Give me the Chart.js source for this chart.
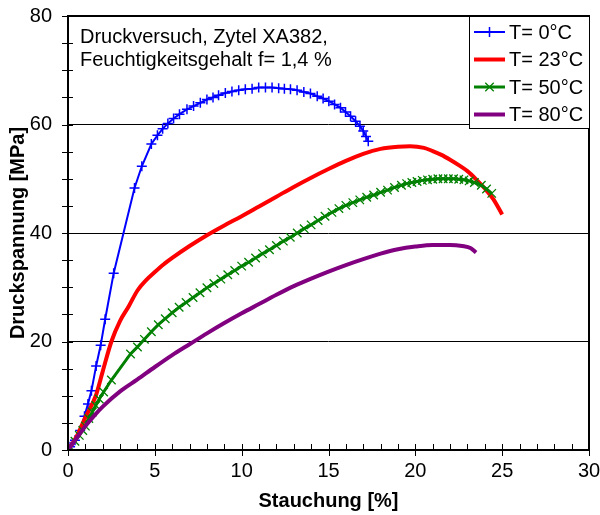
<!DOCTYPE html>
<html>
<head>
<meta charset="utf-8">
<script src="https://cdn.jsdelivr.net/npm/chart.js@4.4.1/dist/chart.umd.min.js"></script>
<style>
  html, body { margin: 0; padding: 0; background: #fff; }
</style>
</head>
<body>
<canvas id="c" width="600" height="515"></canvas>
<script>
// Druckversuch Zytel XA382 — Stauchung [%] gegen Druckspannung [MPa]
var seriesLabels = ['T= 0°C', 'T= 23°C', 'T= 50°C', 'T= 80°C'];
var noteLines = ['Druckversuch, Zytel XA382,', 'Feuchtigkeitsgehalt f= 1,4 %'];
var xTitle = 'Stauchung [%]';
var yTitle = 'Druckspannung [MPa]';

var t0x = [0, 0.12, 0.4, 0.7, 0.95, 1.15, 1.35, 1.62, 1.88, 2.14, 2.63, 3.83, 4.25, 4.8, 5.15,
  5.45, 5.75, 6.08, 6.42, 6.85, 7.23, 7.62, 8.0, 8.35, 8.67, 9.06, 9.44, 9.83, 10.21, 10.6,
  10.98, 11.37, 11.75, 12.13, 12.46, 12.81, 13.19, 13.58, 13.96, 14.35, 14.69, 15.02, 15.35, 15.69, 15.98,
  16.27, 16.56, 16.81, 17.0, 17.16, 17.29];
var t0y = [0, 0.6, 1.8, 3.6, 6.2, 8.5, 10.9, 15.5, 19.3, 24.1, 32.6, 48.3, 52.3, 56.4, 58.0,
  59.2, 60.2, 61.1, 61.9, 62.8, 63.4, 64.0, 64.6, 65.0, 65.4, 65.8, 66.1, 66.3, 66.5, 66.6,
  66.8, 66.8, 66.8, 66.7, 66.6, 66.5, 66.3, 66.0, 65.7, 65.2, 64.8, 64.3, 63.7, 63.1, 62.3,
  61.5, 60.6, 59.7, 58.8, 57.8, 56.9];

var t23x = [0, 0.5, 1, 1.6, 2, 2.5, 3, 3.5, 4, 4.5, 5, 5.5, 6, 7, 8, 9, 10, 11, 12, 13,
  14, 15, 16, 17, 18, 19, 19.7, 20.5, 21, 21.5, 22, 22.5, 23, 23.5, 24, 24.5, 25];
var t23y = [0, 2.5, 6, 10, 14.5, 20, 23.8, 26.5, 29.4, 31.3, 32.8, 34.2, 35.4, 37.6, 39.6, 41.4, 43.1, 44.9, 46.7, 48.5,
  50.2, 51.8, 53.3, 54.6, 55.5, 55.9, 56.0, 55.7, 55.1, 54.4, 53.5, 52.5, 51.4, 49.9, 48.2, 46.2, 43.4];

var t50x = [0, 0.12, 0.4, 0.65, 0.85, 1.0, 1.2, 1.4, 1.6, 1.8, 2.05, 2.5, 3.6, 4.0, 4.4,
  4.8, 5.2, 5.6, 6.0, 6.4, 6.8, 7.2, 7.6, 8.0, 8.4, 8.8, 9.2, 9.6, 10.0, 10.4,
  10.8, 11.2, 11.6, 12.0, 12.4, 12.8, 13.2, 13.6, 14.0, 14.4, 14.8, 15.2, 15.6, 16.0, 16.4,
  16.8, 17.2, 17.6, 18.0, 18.4, 18.8, 19.2, 19.5, 19.8, 20.1, 20.4, 20.7, 21.0, 21.3, 21.6,
  21.9, 22.2, 22.5, 22.8, 23.1, 23.4, 23.8, 24.1, 24.4];
var t50y = [0, 0.6, 1.6, 2.7, 3.6, 4.4, 5.8, 7.0, 8.2, 9.4, 10.7, 12.9, 17.7, 19.0, 20.4,
  21.8, 23.1, 24.2, 25.3, 26.3, 27.2, 28.1, 29.0, 29.9, 30.7, 31.5, 32.3, 33.1, 33.9, 34.6,
  35.4, 36.2, 36.9, 37.7, 38.5, 39.2, 40.0, 40.8, 41.5, 42.3, 43.1, 43.8, 44.5, 45.1, 45.6,
  46.1, 46.6, 47.0, 47.5, 47.9, 48.4, 48.8, 49.1, 49.3, 49.5, 49.7, 49.8, 49.9, 50.0, 50.0,
  50.0, 50.0, 49.9, 49.8, 49.6, 49.3, 48.8, 48.1, 47.3];

var t80x = [0, 0.5, 1, 1.5, 2, 3, 4, 5, 6, 7, 8, 9, 10, 11, 12, 13, 14, 15, 16, 17,
  18, 19, 20, 21, 22, 22.7, 23.2, 23.5];
var t80y = [0, 2.2, 4.4, 6.3, 8.0, 10.8, 13.0, 15.3, 17.5, 19.5, 21.5, 23.4, 25.2, 26.9, 28.6, 30.2, 31.6, 32.9, 34.1, 35.2,
  36.2, 37.0, 37.5, 37.8, 37.8, 37.6, 37.2, 36.4];

var FONT = '"Liberation Sans", Arial, sans-serif';

function pts(xs, ys) {
  return xs.map(function(x, i) { return { x: x, y: ys[i] }; });
}

// Rahmen, Teilstriche, Textfeld und Legende wie im Excel-Diagramm
var decor = {
  id: 'decor',
  afterDatasetsDraw: function(chart) {
    var ctx = chart.ctx, a = chart.chartArea;
    var xs = chart.scales.x, ys = chart.scales.y;
    ctx.save();
    ctx.strokeStyle = '#000';
    ctx.lineWidth = 1;
    ctx.beginPath();
    for (var v = 0; v <= 30; v++) {
      var px = Math.round(xs.getPixelForValue(v)) + 0.5;
      ctx.moveTo(px, a.bottom - 6);
      ctx.lineTo(px, v % 5 === 0 ? a.bottom + 6 : a.bottom);
    }
    for (var w = 0; w <= 80; w += 5) {
      var py = Math.round(ys.getPixelForValue(w)) + 0.5;
      ctx.moveTo(a.left - 6, py);
      ctx.lineTo(a.left + 5, py);
    }
    ctx.stroke();

    ctx.lineWidth = 2;
    ctx.strokeRect(a.left, a.top, a.right - a.left, a.bottom - a.top);

    // Textfeld
    ctx.fillStyle = '#000';
    ctx.font = '20px ' + FONT;
    ctx.textBaseline = 'alphabetic';
    ctx.textAlign = 'left';
    ctx.fillText(noteLines[0], a.left + 12, a.top + 27);
    ctx.fillText(noteLines[1], a.left + 12, a.top + 50);

    // Legende
    var bx = 469, by = a.top, bw = a.right - 469, bh = 112;
    ctx.fillStyle = '#fff';
    ctx.fillRect(bx, by, bw, bh);
    ctx.lineWidth = 1;
    ctx.strokeRect(bx + 0.5, by + 0.5, bw, bh);
    chart.data.datasets.forEach(function(ds, i) {
      var cy = by + 16 + i * 27.5;
      ctx.strokeStyle = ds.borderColor;
      ctx.lineWidth = ds.borderWidth;
      ctx.beginPath();
      ctx.moveTo(474, cy);
      ctx.lineTo(505, cy);
      ctx.stroke();
      if (ds.pointRadius > 0) {
        ctx.lineWidth = ds.pointBorderWidth;
        ctx.beginPath();
        var r = ds.pointRadius, cx = 489.5;
        if (ds.pointStyle === 'cross') {
          ctx.moveTo(cx - r, cy); ctx.lineTo(cx + r, cy);
          ctx.moveTo(cx, cy - r); ctx.lineTo(cx, cy + r);
        } else {
          var d = r * 0.7071;
          ctx.moveTo(cx - d, cy - d); ctx.lineTo(cx + d, cy + d);
          ctx.moveTo(cx - d, cy + d); ctx.lineTo(cx + d, cy - d);
        }
        ctx.stroke();
      }
      ctx.fillStyle = '#000';
      ctx.font = '20px ' + FONT;
      ctx.textBaseline = 'middle';
      ctx.fillText(seriesLabels[i], 509, cy + 1);
    });
    ctx.restore();
  }
};

new Chart(document.getElementById('c'), {
  type: 'line',
  data: {
    datasets: [
      { label: seriesLabels[0], data: pts(t0x, t0y), borderColor: '#0000ff', borderWidth: 2,
        pointStyle: 'cross', pointRadius: 5, pointBorderWidth: 1.5, pointBorderColor: '#0000ff',
        tension: 0, order: 4 },
      { label: seriesLabels[1], data: pts(t23x, t23y), borderColor: '#ff0000', borderWidth: 4,
        pointRadius: 0, cubicInterpolationMode: 'monotone', order: 3 },
      { label: seriesLabels[2], data: pts(t50x, t50y), borderColor: '#008000', borderWidth: 3,
        pointStyle: 'crossRot', pointRadius: 6, pointBorderWidth: 1.3, pointBorderColor: '#008000',
        tension: 0, order: 2 },
      { label: seriesLabels[3], data: pts(t80x, t80y), borderColor: '#800080', borderWidth: 4,
        pointRadius: 0, cubicInterpolationMode: 'monotone', order: 1 }
    ]
  },
  options: {
    responsive: false,
    animation: false,
    events: [],
    layout: { padding: { left: 0, right: 11, top: 16, bottom: 0 } },
    plugins: { legend: { display: false }, tooltip: { enabled: false } },
    scales: {
      x: {
        type: 'linear', min: 0, max: 30,
        ticks: { stepSize: 5, color: '#000', font: { family: FONT, size: 20 }, padding: 9 },
        grid: { display: false, drawTicks: false },
        border: { display: false },
        title: { display: true, text: xTitle, color: '#000',
          font: { family: FONT, size: 20, weight: 'bold' }, padding: { top: 0, bottom: 2 } },
        afterFit: function(s) { s.height = 65; s.paddingLeft = 0; s.paddingRight = 0; }
      },
      y: {
        min: 0, max: 80,
        ticks: { stepSize: 20, color: '#000', font: { family: FONT, size: 20 }, padding: 16 },
        grid: { color: '#000', lineWidth: 1, drawTicks: false },
        border: { display: false },
        title: { display: true, text: yTitle, color: '#000',
          font: { family: FONT, size: 20, weight: 'bold' }, padding: { top: 6, bottom: 0 } },
        afterFit: function(s) { s.width = 68; s.paddingTop = 0; s.paddingBottom = 0; }
      }
    }
  },
  plugins: [decor]
});
</script>
</body>
</html>
